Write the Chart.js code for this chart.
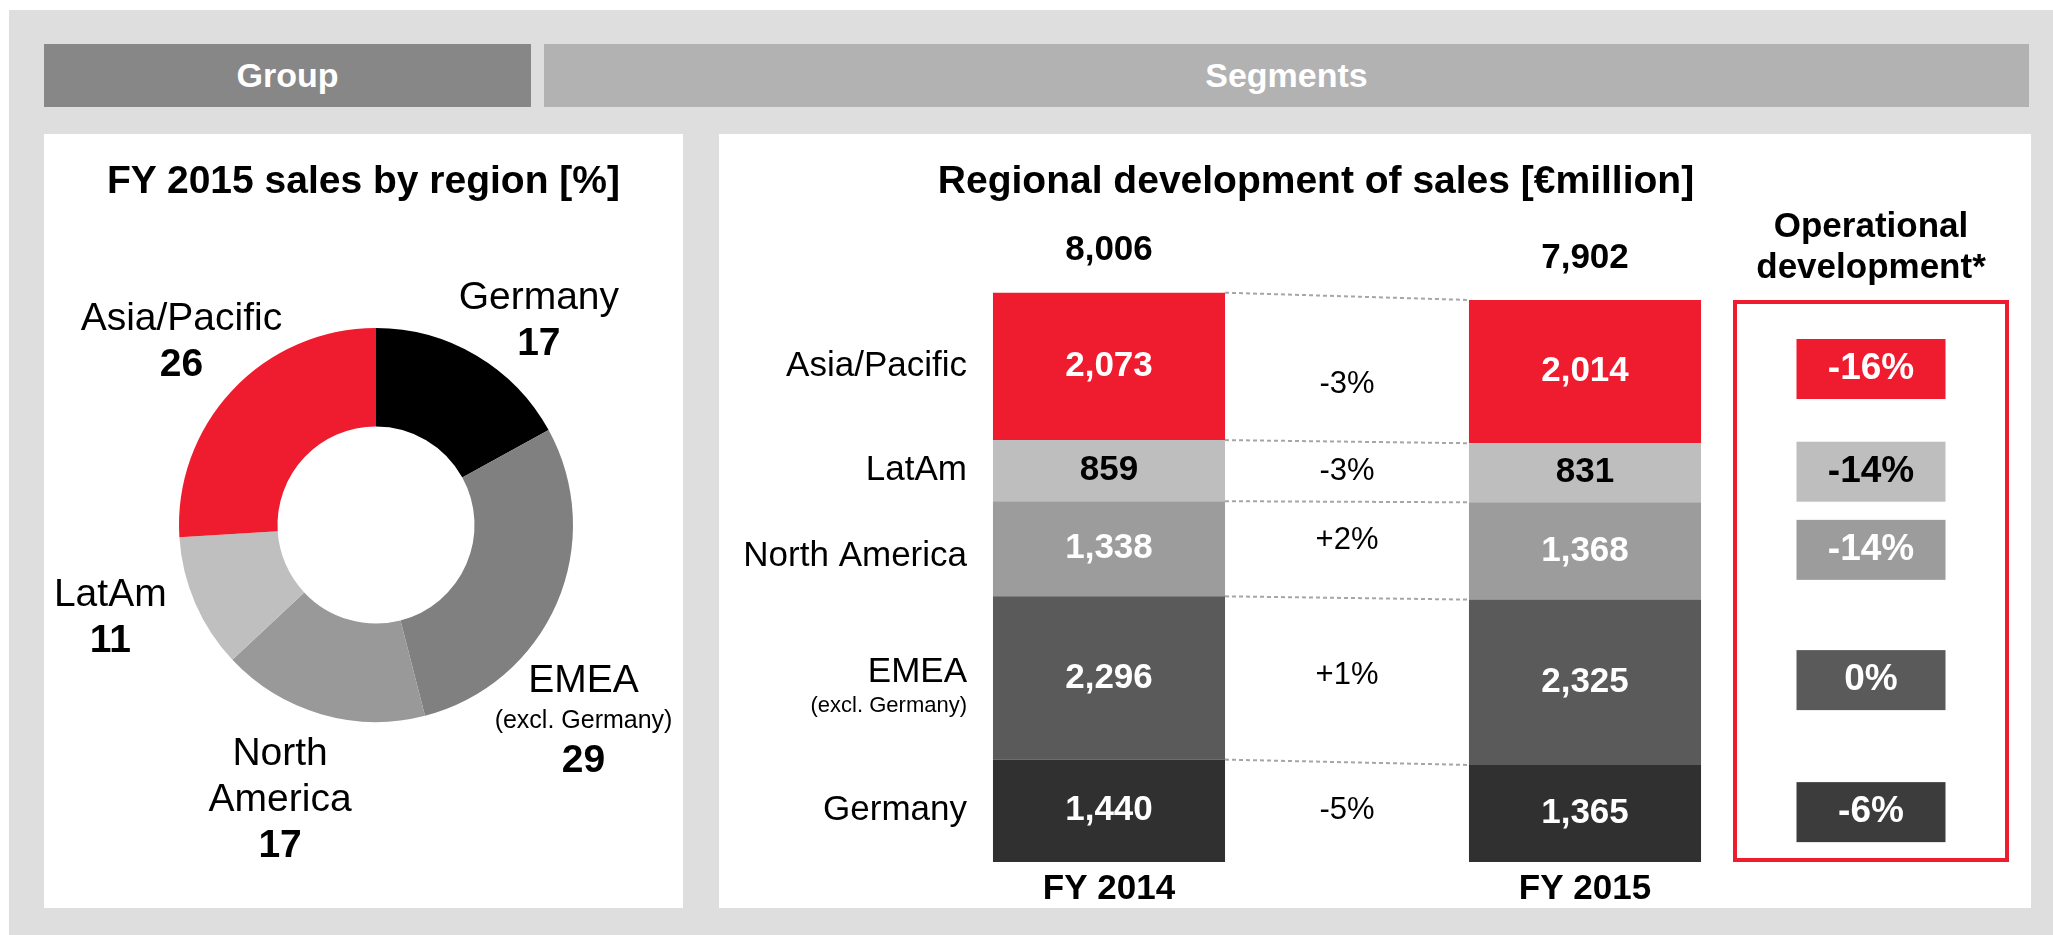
<!DOCTYPE html>
<html>
<head>
<meta charset="utf-8">
<script src="https://cdn.jsdelivr.net/npm/chart.js@4.4.1/dist/chart.umd.min.js"></script>
<style>
body { margin: 0; background: #fff; font-family: "Liberation Sans", Arial, sans-serif; }
#bg { position: absolute; left: 9px; top: 10px; width: 2044px; height: 925px; background: #dedede; }
.hdr { position: absolute; top: 44px; height: 63px; line-height: 63px; color: #fff; font-weight: bold; font-size: 34px; text-align: center; }
.panel { position: absolute; top: 134px; height: 774px; background: #fff; }
.title { position: absolute; top: 23px; left: 0; font-weight: bold; font-size: 39px; line-height: 46px; text-align: center; color: #000; }
canvas { position: absolute; left: 0; top: 0; }
</style>
</head>
<body>
<div id="bg"></div>
<div class="hdr" style="left:44px;width:487px;background:#878787">Group</div>
<div class="hdr" style="left:544px;width:1485px;background:#b2b2b2">Segments</div>

<div class="panel" style="left:44px;width:639px">
  <canvas id="pie" width="639" height="774"></canvas>
  <div class="title" style="width:639px">FY 2015 sales by region [%]</div>
</div>
<div class="panel" style="left:719px;width:1312px">
  <canvas id="bars" width="1312" height="774" style="top:8px"></canvas>
  <div class="title" style="width:1194px">Regional development of sales [€million]</div>
</div>

<script>
// FY 2015 share of sales (%), clockwise from 12 o'clock
var pieRegions = [['Germany'], ['EMEA', '(excl. Germany)'], ['North', 'America'], ['LatAm'], ['Asia/Pacific']];
var pieShares = [17, 29, 17, 11, 26];

// sales in € million, stacked from the bottom up
var years = ['FY 2014', '', 'FY 2015'];
var barRegions = [['Germany'], ['EMEA', '(excl. Germany)'], ['North America'], ['LatAm'], ['Asia/Pacific']];
var sales2014 = [1440, 2296, 1338, 859, 2073];
var sales2015 = [1365, 2325, 1368, 831, 2014];
var totals = [8006, 7902];
var changes = ['-5%', '+1%', '+2%', '-3%', '-3%'];
var opDevelopment = ['-6%', '0%', '-14%', '-14%', '-16%'];

const FONT = '"Liberation Sans", Arial, sans-serif';
const red = '#ee1c2e';
const pieColors = ['#000000', '#808080', '#999999', '#bfbfbf', red];
const barColors = ['#303030', '#5a5a5a', '#9c9c9c', '#bebebe', red];
const opColors = ['#3c3c3c', '#5a5a5a', '#9c9c9c', '#bebebe', red];
const textColors = ['#fff', '#fff', '#fff', '#000', '#fff'];

// where the donut labels sit: extra turn (deg) and distance in radii
const pieLabelPlace = [
    { turn: 8, dist: 1.325 },
    { turn: 20, dist: 1.45 },
    { turn: 3, dist: 1.48 },
    { turn: 4, dist: 1.43 },
    { turn: 0, dist: 1.355 }
];
// small vertical nudges (px) for the change and region labels
const changeNudge = [-2, -5, -9, 0, 15];
const nameNudge = [0, 0, 8, 0, 0];

function fmt(n) {
    return String(n).replace(/\B(?=(\d{3})+(?!\d))/g, ',');
}

const pieLabels = {
    id: 'pieLabels',
    afterDatasetsDraw(chart) {
        const ctx = chart.ctx;
        const arcs = chart.getDatasetMeta(0).data;
        ctx.save();
        ctx.textAlign = 'center';
        ctx.textBaseline = 'middle';
        ctx.fillStyle = '#000';
        arcs.forEach(function (arc, i) {
            const p = pieLabelPlace[i];
            const a = (arc.startAngle + arc.endAngle) / 2 + p.turn * Math.PI / 180;
            const cx = arc.x + Math.cos(a) * arc.outerRadius * p.dist;
            const cy = arc.y + Math.sin(a) * arc.outerRadius * p.dist;
            const lines = pieRegions[i].map(function (s) {
                return { text: s, small: s[0] === '(', bold: false };
            });
            lines.push({ text: String(pieShares[i]), small: false, bold: true });
            const hs = lines.map(function (l) { return l.small ? 34 : 46; });
            let y = cy - hs.reduce(function (s, h) { return s + h; }, 0) / 2;
            lines.forEach(function (l, j) {
                ctx.font = (l.bold ? 'bold ' : '') + (l.small ? 25 : 39) + 'px ' + FONT;
                ctx.fillText(l.text, cx, y + hs[j] / 2);
                y += hs[j];
            });
        });
        ctx.restore();
    }
};

const barLabels = {
    id: 'barLabels',
    afterDatasetsDraw(chart) {
        const ctx = chart.ctx;
        const area = chart.chartArea;
        const midX = chart.scales.x.getPixelForValue(1);
        const n = chart.data.datasets.length;
        const b0 = chart.getDatasetMeta(n - 1).data[0];
        const b2 = chart.getDatasetMeta(n - 1).data[2];
        const top15 = b2.y;
        const frameX = area.right + 31, frameW = 272;
        const boxX = frameX + frameW / 2;

        ctx.save();
        ctx.textBaseline = 'middle';

        // red frame round the operational development column
        ctx.strokeStyle = red;
        ctx.lineWidth = 4;
        ctx.strokeRect(frameX, top15 + 2, frameW, area.bottom - top15 - 4);
        ctx.textAlign = 'center';
        ctx.fillStyle = '#000';
        ctx.font = 'bold 35px ' + FONT;
        ctx.fillText('Operational', boxX, top15 - 73);
        ctx.fillText('development*', boxX, top15 - 32);

        // totals above the stacks
        ctx.fillText(fmt(totals[0]), b0.x, b0.y - 42);
        ctx.fillText(fmt(totals[1]), b2.x, b2.y - 42);

        for (let i = 0; i < n; i++) {
            const bars = chart.getDatasetMeta(i).data;
            const a = bars[0], b = bars[2];
            const midA = (a.y + a.base) / 2;
            const midB = (b.y + b.base) / 2;
            const mid = (midA + midB) / 2;

            ctx.textAlign = 'center';
            ctx.font = 'bold 35px ' + FONT;
            ctx.fillStyle = textColors[i];
            ctx.fillText(fmt(sales2014[i]), a.x, midA);
            ctx.fillText(fmt(sales2015[i]), b.x, midB);

            ctx.strokeStyle = '#a6a6a6';
            ctx.lineWidth = 2;
            ctx.setLineDash([4, 3]);
            ctx.beginPath();
            ctx.moveTo(a.x + a.width / 2, a.y);
            ctx.lineTo(b.x - b.width / 2, b.y);
            ctx.stroke();
            ctx.setLineDash([]);

            ctx.font = '31px ' + FONT;
            ctx.fillStyle = '#000';
            ctx.fillText(changes[i], midX, mid + changeNudge[i]);

            // operational development box
            ctx.fillStyle = opColors[i];
            ctx.fillRect(boxX - 74.5, mid - 30, 149, 60);
            ctx.fillStyle = textColors[i];
            ctx.font = 'bold 37px ' + FONT;
            ctx.fillText(opDevelopment[i], boxX, mid);

            // region name left of the stacks
            ctx.textAlign = 'right';
            ctx.fillStyle = '#000';
            const name = barRegions[i];
            const ny = midA + nameNudge[i];
            if (name.length > 1) {
                ctx.font = '35px ' + FONT;
                ctx.fillText(name[0], area.left - 23, ny - 6);
                ctx.font = '22px ' + FONT;
                ctx.fillText(name[1], area.left - 23, ny + 28);
            } else {
                ctx.font = '35px ' + FONT;
                ctx.fillText(name[0], area.left - 23, ny);
            }
        }
        ctx.restore();
    }
};

new Chart(document.getElementById('pie'), {
    type: 'doughnut',
    data: {
        labels: pieRegions.map(function (r) { return r.join(' '); }),
        datasets: [{
            data: pieShares,
            backgroundColor: pieColors,
            borderWidth: 0
        }]
    },
    options: {
        responsive: false,
        animation: false,
        cutout: '50%',
        layout: { padding: { left: 135, right: 110, top: 194, bottom: 186 } },
        plugins: { legend: { display: false }, tooltip: { enabled: false } }
    },
    plugins: [pieLabels]
});

new Chart(document.getElementById('bars'), {
    type: 'bar',
    data: {
        labels: years,
        datasets: barRegions.map(function (r, i) {
            return {
                label: r.join(' '),
                data: [sales2014[i], null, sales2015[i]],
                backgroundColor: barColors[i],
                borderWidth: 0,
                categoryPercentage: 1,
                barPercentage: 0.975
            };
        })
    },
    options: {
        responsive: false,
        animation: false,
        layout: { padding: { left: 271, right: 327, top: 80, bottom: 0 } },
        plugins: { legend: { display: false }, tooltip: { enabled: false } },
        scales: {
            x: {
                stacked: true,
                grid: { display: false, drawTicks: false },
                border: { display: false },
                ticks: { color: '#000', padding: 6, font: { family: FONT, size: 35, weight: 'bold' } }
            },
            y: { stacked: true, display: false, min: 0, max: 9000 }
        }
    },
    plugins: [barLabels]
});
</script>
</body>
</html>
